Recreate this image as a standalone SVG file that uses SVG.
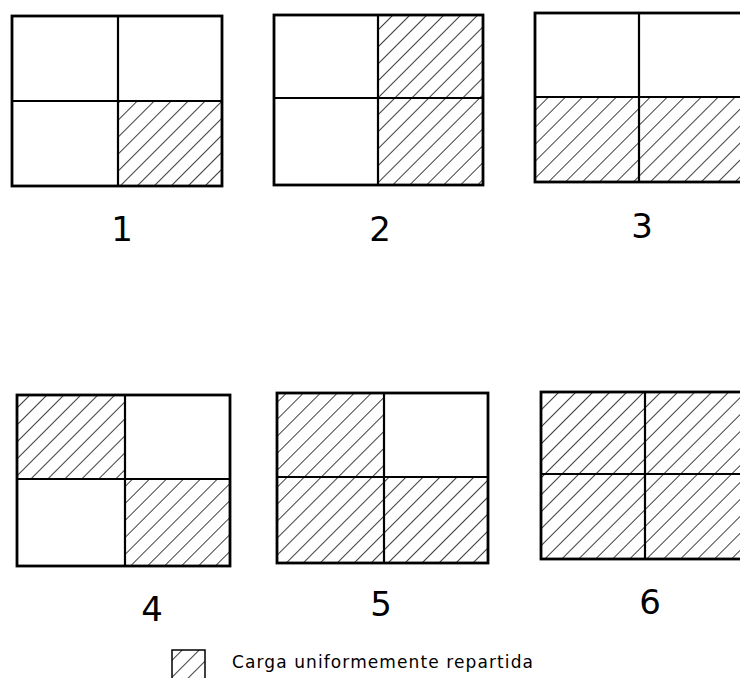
<svg xmlns="http://www.w3.org/2000/svg" width="740" height="678" viewBox="0 0 740 678">
<defs>
<pattern id="hatch" width="12" height="12" patternUnits="userSpaceOnUse" patternTransform="rotate(45)">
<line x1="0" y1="-1" x2="0" y2="13" stroke="#000" stroke-width="1.5"/>
</pattern>
</defs>
<style>
.frame{fill:none;stroke:#000;stroke-width:2.8}
.div{stroke:#000;stroke-width:2.2}
.h{fill:url(#hatch)}
.num{font-family:"DejaVu Sans","Liberation Sans",sans-serif;font-size:34px;fill:#000;text-anchor:middle}
.leg{font-family:"DejaVu Sans","Liberation Sans",sans-serif;font-size:17px;fill:#000;letter-spacing:1.1px}
</style>
<rect width="740" height="678" fill="#fff"/>

<g id="panel1">
<rect class="h" x="118" y="101" width="104" height="85"/>
<rect class="frame" x="12" y="16" width="210" height="170"/>
<line class="div" x1="118" y1="16" x2="118" y2="186"/>
<line class="div" x1="12" y1="101" x2="222" y2="101"/>
<text class="num" x="122" y="241">1</text>
</g>

<g id="panel2">
<rect class="h" x="378" y="15" width="105" height="170"/>
<rect class="frame" x="274" y="15" width="209" height="170"/>
<line class="div" x1="378" y1="15" x2="378" y2="185"/>
<line class="div" x1="274" y1="98" x2="483" y2="98"/>
<text class="num" x="380" y="241">2</text>
</g>

<g id="panel3">
<rect class="h" x="535" y="97" width="215" height="85"/>
<rect class="frame" x="535" y="13" width="215" height="169"/>
<line class="div" x1="639" y1="13" x2="639" y2="182"/>
<line class="div" x1="535" y1="97" x2="750" y2="97"/>
<text class="num" x="642" y="238">3</text>
</g>

<g id="panel4">
<rect class="h" x="17" y="395" width="108" height="84"/>
<rect class="h" x="125" y="479" width="105" height="87"/>
<rect class="frame" x="17" y="395" width="213" height="171"/>
<line class="div" x1="125" y1="395" x2="125" y2="566"/>
<line class="div" x1="17" y1="479" x2="230" y2="479"/>
<text class="num" x="152" y="621">4</text>
</g>

<g id="panel5">
<rect class="h" x="277" y="393" width="107" height="170"/>
<rect class="h" x="384" y="477" width="104" height="86"/>
<rect class="frame" x="277" y="393" width="211" height="170"/>
<line class="div" x1="384" y1="393" x2="384" y2="563"/>
<line class="div" x1="277" y1="477" x2="488" y2="477"/>
<text class="num" x="381" y="616">5</text>
</g>

<g id="panel6">
<rect class="h" x="541" y="392" width="209" height="167"/>
<rect class="frame" x="541" y="392" width="209" height="167"/>
<line class="div" x1="645" y1="392" x2="645" y2="559"/>
<line class="div" x1="541" y1="474" x2="750" y2="474"/>
<text class="num" x="650" y="614">6</text>
</g>

<g id="legend">
<rect class="h" x="172" y="650" width="33" height="30"/>
<path d="M172,680 V650 H205 V680" fill="none" stroke="#000" stroke-width="1.5"/>
<text class="leg" x="232" y="668">Carga uniformemente repartida</text>
</g>

<g id="connectors"/>
</svg>
